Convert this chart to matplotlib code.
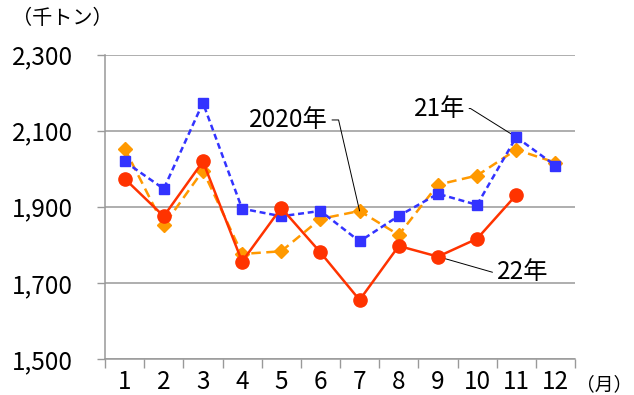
import matplotlib
matplotlib.use("Agg")
import matplotlib.pyplot as plt
from matplotlib.ticker import FixedLocator, FuncFormatter

plt.rcParams["font.family"] = ["Noto Sans CJK JP", "DejaVu Sans"]

# ------------------------------------------------------------
# データ（千トン）
# ------------------------------------------------------------
months = list(range(1, 13))
y2020 = [2053, 1851, 1995, 1776, 1783, 1868, 1889, 1826, 1958, 1982, 2050, 2016]
y2021 = [2019, 1947, 2173, 1895, 1875, 1889, 1809, 1876, 1934, 1905, 2083, 2008]
y2022 = [1974, 1875, 2019, 1756, 1897, 1780, 1655, 1797, 1769, 1816, 1931]

C20 = "#ff9900"
C21 = "#3333ff"
C22 = "#ff3300"
GRID = "#999999"
FS = 17.5

fig = plt.figure(figsize=(6.34, 3.95), dpi=100, facecolor="white")
ax = fig.add_axes([105 / 634, 36 / 395, 470 / 634, 304.5 / 395])

ax.plot(months, y2020, color=C20, lw=1.8, dashes=(3.8, 2.2),
        marker="D", ms=7, mec=C20, mfc=C20, zorder=3)
ax.plot(months, y2021, color=C21, lw=1.8, dashes=(2.4, 1.5),
        marker="s", ms=7.2, mec=C21, mfc=C21, zorder=4)
ax.plot(months[:len(y2022)], y2022, color=C22, lw=1.8,
        marker="o", ms=9.5, mec=C22, mfc=C22, zorder=5)

# 軸・目盛
ax.set_xlim(0.5, 12.5)
ax.set_ylim(1500, 2300)
ax.yaxis.set_major_locator(FixedLocator([1500, 1700, 1900, 2100, 2300]))
ax.yaxis.set_major_formatter(FuncFormatter(lambda v, p: f"{int(v):,}"))
ax.grid(axis="y", color=GRID, lw=1.1, zorder=0)
ax.set_axisbelow(True)

ax.set_xticks(months)
ax.set_xticklabels([str(m) for m in months])
ax.set_xticks([m + 0.5 for m in [0] + months], minor=True)
ax.tick_params(axis="x", which="major", length=0, pad=7, labelsize=FS)
ax.tick_params(axis="x", which="minor", length=6.5, width=1.0, color=GRID)
ax.tick_params(axis="y", length=6, width=1.0, color=GRID, pad=17, labelsize=FS)

for s in ["top", "right"]:
    ax.spines[s].set_visible(False)
for s in ["left", "bottom"]:
    ax.spines[s].set_color(GRID)
    ax.spines[s].set_linewidth(1.1)

# 系列ラベル
lead = dict(arrowstyle="-", color="black", lw=0.7, shrinkA=1, shrinkB=0)
ax.annotate("2020年", xy=(7, y2020[6]), xytext=(6.19, 2128),
            ha="right", va="center", fontsize=FS,
            arrowprops=dict(lead, connectionstyle="angle,angleA=0,angleB=103,rad=0"))
ax.annotate("21年", xy=(11, y2021[10]), xytext=(9.69, 2158),
            ha="right", va="center", fontsize=FS,
            arrowprops=dict(lead, connectionstyle="angle,angleA=0,angleB=148,rad=0"))
ax.annotate("22年", xy=(9, y2022[8]), xytext=(10.5, 1728),
            ha="left", va="center", fontsize=FS,
            arrowprops=dict(lead, connectionstyle="angle,angleA=180,angleB=-16,rad=0"))

fig.text(12 / 634, 1 - 18 / 395, "（千トン）", fontsize=14.5, ha="left", va="center")
fig.text(576 / 634, 1 - 385 / 395, "（月）", fontsize=13.5, ha="left", va="center")

fig.savefig("out.png", dpi=100, facecolor="white")
